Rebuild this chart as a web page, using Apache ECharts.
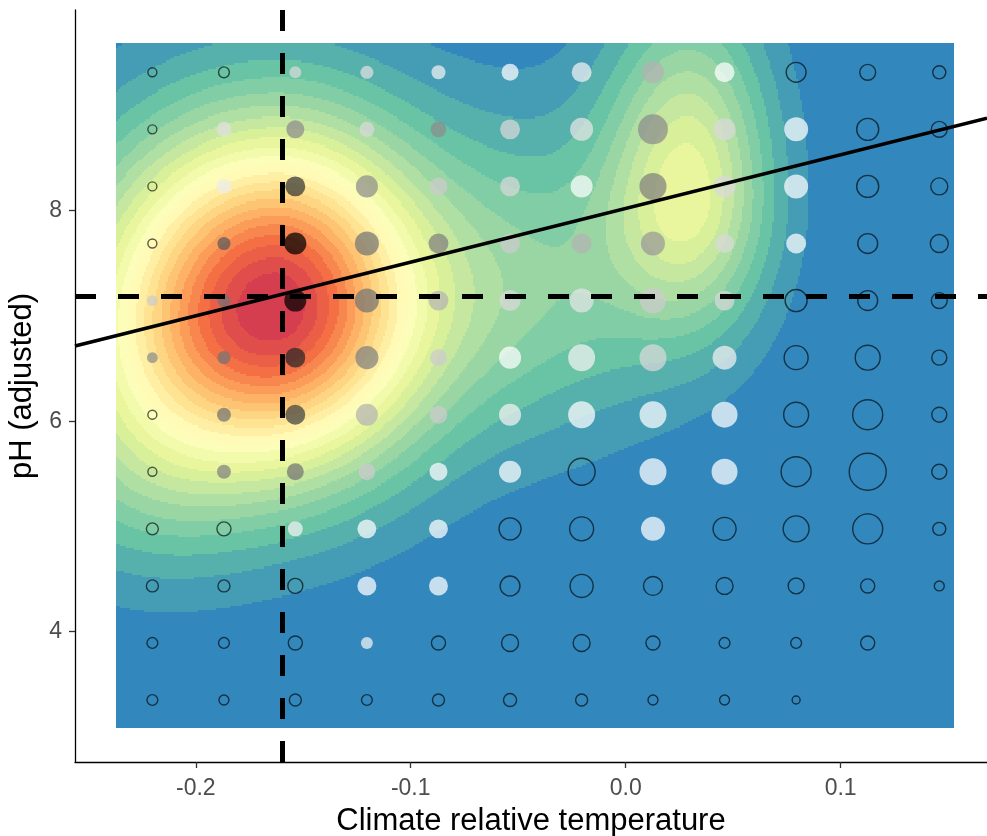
<!DOCTYPE html>
<html>
<head>
<meta charset="utf-8">
<title>pH vs climate relative temperature</title>
<script src="https://cdn.jsdelivr.net/npm/echarts@6/dist/echarts.min.js"></script>
<style>
    html, body { margin: 0; padding: 0; background: #fff; }
    #chart { width: 987px; height: 836px; }
</style>
</head>
<body>
<div id="chart"></div>
<script>
"use strict";

// class centres of the bubble grid
var tempClasses = [-0.2202, -0.1869, -0.1537, -0.1204, -0.0871, -0.0538, -0.0205, 0.0127, 0.0460, 0.0793, 0.1126, 0.1459];
var phClasses = [9.315, 8.773, 8.231, 7.688, 7.146, 6.604, 6.062, 5.520, 4.977, 4.435, 3.893, 3.351];

// bubble magnitude, one row per pH class (null = no bubble)
var bubbleN = [
    [9, 13, 16, 19, 22, 32, 44, 54, 44, 44, 28, 19],
    [9, 25, 36, 25, 28, 44, 59, 100, 54, 64, 54, 28],
    [9, 25, 44, 54, 36, 44, 54, 81, 54, 64, 54, 32],
    [9, 19, 54, 64, 44, 44, 44, 64, 40, 44, 44, 36],
    [13, 19, 54, 64, 44, 49, 64, 75, 44, 54, 44, 28],
    [13, 19, 44, 59, 32, 54, 81, 81, 64, 64, 69, 25],
    [9, 22, 44, 54, 36, 54, 81, 81, 75, 69, 100, 25],
    [9, 22, 32, 32, 36, 54, 81, 81, 75, 100, 152, 25],
    [16, 22, 25, 40, 40, 54, 64, 64, 59, 75, 100, 19],
    [16, 16, 25, 40, 40, 44, 59, 40, 32, 28, 22, 11],
    [13, 13, 22, 16, 22, 32, 32, 22, 13, 13, 22, null],
    [13, 11, 16, 13, 16, 19, 16, 11, 11, 7, null, null]
];

// bubble grey level, 0 = white .. 1 = black (null = open circle)
var bubbleShade = [
    [null, null, 0.15, 0.12, 0.05, 0.00, 0.05, 0.30, 0.00, null, null, null],
    [null, 0.12, 0.45, 0.15, 0.45, 0.15, 0.10, 0.45, 0.15, 0.00, null, null],
    [null, 0.08, 0.80, 0.45, 0.20, 0.15, 0.00, 0.50, 0.15, 0.00, null, null],
    [null, 0.65, 1.00, 0.55, 0.50, 0.20, 0.30, 0.40, 0.15, 0.00, null, null],
    [0.20, 0.55, 1.00, 0.55, 0.30, 0.15, 0.10, 0.20, 0.15, null, null, null],
    [0.45, 0.55, 0.85, 0.50, 0.20, 0.00, 0.05, 0.15, 0.05, null, null, null],
    [null, 0.55, 0.75, 0.30, 0.20, 0.05, 0.00, 0.00, 0.00, null, null, null],
    [null, 0.50, 0.55, 0.20, 0.00, 0.00, null, 0.00, 0.00, null, null, null],
    [null, null, 0.05, 0.00, 0.00, null, null, 0.00, null, null, null, null],
    [null, null, null, 0.00, 0.00, null, null, null, null, null, null, null],
    [null, null, null, 0.05, null, null, null, null, null, null, null, null],
    [null, null, null, null, null, null, null, null, null, null, null, null]
];

// density surface: hot spots
var densityX = [-0.163, 0.030, -0.040, -0.225];
var densityY = [7.10, 8.20, 7.30, 5.60];
var densitySpreadLeft = [0.055, 0.027, 0.045, 0.040];
var densitySpreadRight = [0.048, 0.026, 0.045, 0.040];
var densitySpreadUp = [1.15, 1.20, 1.10, 1.00];
var densitySpreadDown = [1.05, 0.90, 1.00, 0.80];
var densityWeight = [1.00, 0.38, 0.18, 0.14];
var densityExtentX = [-0.2368, 0.1525];
var densityExtentY = [3.088, 9.590];
var densityBands = 24;

// reference lines and fitted trend
var refTemp = -0.157;
var refPh = 7.19;
var trendX = [-0.2562, 0.1681];
var trendY = [6.714, 8.880];

// axes
var xTicks = [-0.2, -0.1, 0.0, 0.1];
var yTicks = [4, 6, 8];
var xRange = [-0.2562, 0.1681];
var yRange = [2.762, 9.907];

var spectral = ['#3288BD', '#66C2A5', '#ABDDA4', '#E6F598', '#FFFFBF', '#FEE08B', '#FDAE61', '#F46D43', '#D53E4F'];

function hexToRgb(h) {
    return [parseInt(h.substr(1, 2), 16), parseInt(h.substr(3, 2), 16), parseInt(h.substr(5, 2), 16)];
}

function rampColor(t) {
    var pos = t * (spectral.length - 1);
    var i = Math.min(Math.floor(pos), spectral.length - 2);
    var f = pos - i;
    var a = hexToRgb(spectral[i]), b = hexToRgb(spectral[i + 1]);
    var c = [0, 1, 2].map(function (k) { return Math.round(a[k] + (b[k] - a[k]) * f); });
    return 'rgb(' + c.join(',') + ')';
}

var bandColors = [];
for (var b = 0; b < densityBands; b++) {
    bandColors.push(rampColor(b / (densityBands - 1)));
}

function density(x, y) {
    var s = 0;
    for (var k = 0; k < densityX.length; k++) {
        var dx = x - densityX[k];
        var dy = y - densityY[k];
        var sx = dx < 0 ? densitySpreadLeft[k] : densitySpreadRight[k];
        var sy = dy > 0 ? densitySpreadUp[k] : densitySpreadDown[k];
        s += densityWeight[k] * Math.exp(-0.5 * (dx / sx) * (dx / sx) - 0.5 * (dy / sy) * (dy / sy));
    }
    return s;
}

/**
 * density surface cut into filled bands, one run of equal band per row
 */
function buildBands() {
    var nx = 420, ny = 330;
    var stepX = (densityExtentX[1] - densityExtentX[0]) / nx;
    var stepY = (densityExtentY[1] - densityExtentY[0]) / ny;
    var field = [], maxD = 0;
    for (var j = 0; j < ny; j++) {
        var row = [];
        var yc = densityExtentY[0] + (j + 0.5) * stepY;
        for (var i = 0; i < nx; i++) {
            var d = density(densityExtentX[0] + (i + 0.5) * stepX, yc);
            row.push(d);
            if (d > maxD) maxD = d;
        }
        field.push(row);
    }
    var runs = [];
    for (var j = 0; j < ny; j++) {
        var y0 = densityExtentY[0] + j * stepY;
        var start = 0;
        var cur = -1;
        for (var i = 0; i <= nx; i++) {
            var band = i < nx ? Math.min(densityBands - 1, Math.floor(field[j][i] / maxD * densityBands)) : -2;
            if (band !== cur) {
                if (cur >= 0) {
                    runs.push([densityExtentX[0] + start * stepX, densityExtentX[0] + i * stepX, y0, y0 + stepY, cur]);
                }
                cur = band;
                start = i;
            }
        }
    }
    return runs;
}

function buildBubbles() {
    var items = [];
    for (var r = 0; r < phClasses.length; r++) {
        for (var c = 0; c < tempClasses.length; c++) {
            var n = bubbleN[r][c];
            if (n === null) continue;
            var shade = bubbleShade[r][c];
            var style;
            if (shade === null) {
                style = { color: 'rgba(0,0,0,0)', borderColor: 'rgba(0,0,0,0.8)', borderWidth: 1.4 };
            } else {
                var g = Math.round(255 * (1 - shade));
                style = { color: 'rgba(' + g + ',' + g + ',' + g + ',0.9)', borderWidth: 0 };
            }
            items.push({ value: [tempClasses[c], phClasses[r]], symbolSize: 3 * Math.sqrt(n), itemStyle: style });
        }
    }
    return items;
}

function renderBand(params, api) {
    var p0 = api.coord([api.value(0), api.value(3)]);
    var p1 = api.coord([api.value(1), api.value(2)]);
    var x = Math.floor(p0[0]), y = Math.floor(p0[1]);
    return {
        type: 'rect',
        shape: { x: x, y: y, width: Math.ceil(p1[0]) - x, height: Math.ceil(p1[1]) - y },
        style: { fill: bandColors[api.value(4)] }
    };
}

var chart = echarts.init(document.getElementById('chart'));
var option = {
    animation: false,
    backgroundColor: '#fff',
    grid: { left: 75, right: 0, top: 10, bottom: 74, containLabel: false, outerBoundsMode: 'none' },
    xAxis: {
        type: 'value',
        min: xRange[0], max: xRange[1],
        name: 'Climate relative temperature',
        nameLocation: 'middle',
        nameGap: 44,
        nameTextStyle: { fontSize: 31, color: '#000', fontFamily: 'Liberation Sans' },
        axisLine: { onZero: false, lineStyle: { color: '#000', width: 1.3 } },
        axisTick: { customValues: xTicks, length: 6, lineStyle: { color: '#333', width: 1.3 } },
        axisLabel: {
            customValues: xTicks, margin: 15, fontSize: 23, color: '#4d4d4d', fontFamily: 'Liberation Sans',
            formatter: function (v) { return v.toFixed(1); }
        },
        splitLine: { show: false }
    },
    yAxis: {
        type: 'value',
        min: yRange[0], max: yRange[1],
        name: 'pH (adjusted)',
        nameLocation: 'middle',
        nameGap: 29,
        nameRotate: 90,
        nameTextStyle: { fontSize: 31, color: '#000', fontFamily: 'Liberation Sans' },
        axisLine: { show: true, onZero: false, lineStyle: { color: '#000', width: 1.3 } },
        axisTick: { show: true, customValues: yTicks, length: 6, lineStyle: { color: '#333', width: 1.3 } },
        axisLabel: { customValues: yTicks, margin: 13, fontSize: 23, color: '#4d4d4d', fontFamily: 'Liberation Sans' },
        splitLine: { show: false }
    },
    series: [
        {
            type: 'custom',
            z: 1,
            silent: true,
            renderItem: renderBand,
            encode: { x: [0, 1], y: [2, 3] },
            data: buildBands()
        },
        {
            type: 'scatter',
            z: 2,
            symbol: 'circle',
            data: buildBubbles()
        },
        {
            type: 'line',
            z: 3,
            symbol: 'none',
            lineStyle: { color: '#000', width: 3.5 },
            data: [[trendX[0], trendY[0]], [trendX[1], trendY[1]]],
            markLine: {
                silent: true,
                symbol: ['none', 'none'],
                label: { show: false },
                lineStyle: { color: '#000', width: 5, type: [21, 22] },
                data: [{ xAxis: refTemp }, { yAxis: refPh }]
            }
        }
    ]
};
chart.setOption(option);
</script>
</body>
</html>
